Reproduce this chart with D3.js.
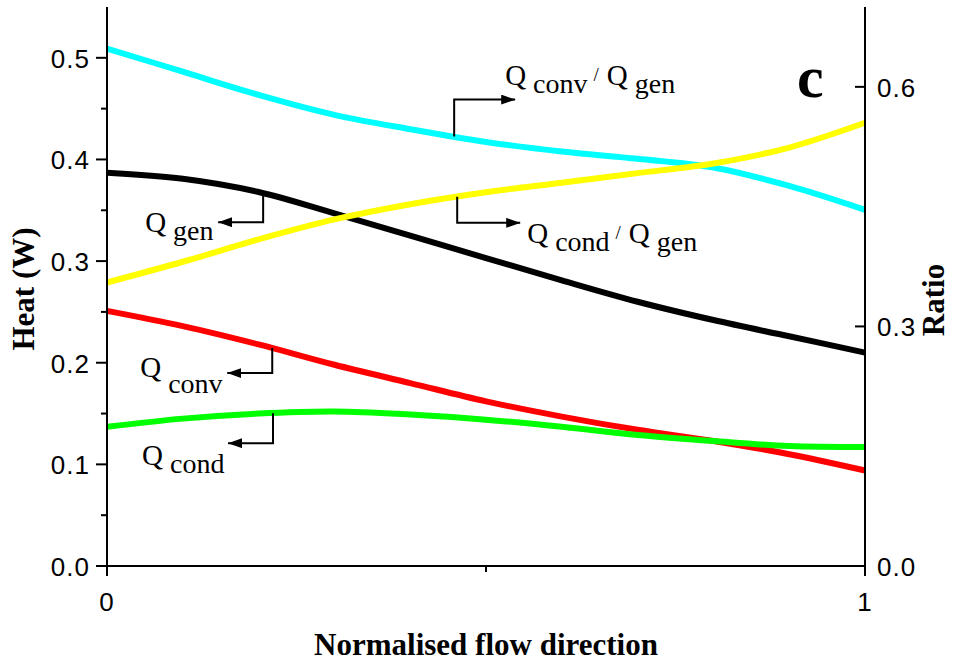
<!DOCTYPE html>
<html>
<head>
<meta charset="utf-8">
<script src="https://cdn.jsdelivr.net/npm/d3@7"></script>
<style>
  body { margin: 0; background: #fff; }
  svg text { fill: #000; }
  .tick-label { font-family: "Liberation Sans", Arial, sans-serif; font-size: 26px; letter-spacing: 1px; }
  .axis-title { font-family: "Liberation Serif", "Times New Roman", serif; font-size: 31px; font-weight: bold; }
  .note { font-family: "Liberation Serif", "Times New Roman", serif; font-size: 29px; }
</style>
</head>
<body>
<div id="chart"></div>
<script>
// positions along the flow, normalised 0..1
var flow_pos = [0, 0.1, 0.2, 0.3, 0.4, 0.5, 0.6, 0.7, 0.8, 0.9, 1.0];

// heat values (W), left axis
var q_gen  = [0.387, 0.381, 0.368, 0.347, 0.325, 0.303, 0.281, 0.260, 0.242, 0.226, 0.210];
var q_conv = [0.251, 0.236, 0.218, 0.198, 0.180, 0.162, 0.147, 0.134, 0.123, 0.110, 0.094];
var q_cond = [0.137, 0.145, 0.150, 0.152, 0.149, 0.144, 0.137, 0.129, 0.123, 0.118, 0.117];

// ratios, right axis
var conv_ratio = [0.648, 0.619, 0.590, 0.565, 0.547, 0.531, 0.519, 0.510, 0.499, 0.476, 0.446];
var cond_ratio = [0.355, 0.381, 0.409, 0.434, 0.453, 0.468, 0.480, 0.492, 0.504, 0.524, 0.555];

var left_ticks = [0.0, 0.1, 0.2, 0.3, 0.4, 0.5];
var left_minor = [0.05, 0.15, 0.25, 0.35, 0.45];
var right_ticks = [0.0, 0.3, 0.6];
var x_ticks = [0, 1];
var x_minor = [0.5];

var width = 953, height = 664;
var plot = { left: 107, right: 865, top: 7, bottom: 566 };

var svg = d3.select("#chart").append("svg")
  .attr("width", width)
  .attr("height", height);

var x = d3.scaleLinear().domain([0, 1]).range([plot.left, plot.right]);
var yL = d3.scaleLinear().domain([0, 0.55]).range([plot.bottom, plot.top]);
var yR = d3.scaleLinear().domain([0, 0.7]).range([plot.bottom, plot.top]);

// arrow head
svg.append("defs").append("marker")
  .attr("id", "arrow")
  .attr("viewBox", "0 0 14 10")
  .attr("refX", 14).attr("refY", 5)
  .attr("markerWidth", 14).attr("markerHeight", 10)
  .attr("markerUnits", "userSpaceOnUse")
  .attr("orient", "auto")
  .append("path")
  .attr("d", "M0,0 L14,5 L0,10 Z")
  .attr("fill", "#000");

// series
var series = [
  { values: q_gen, scale: yL, color: "#000000" },
  { values: q_conv, scale: yL, color: "#ff0000" },
  { values: q_cond, scale: yL, color: "#00ff00" },
  { values: conv_ratio, scale: yR, color: "#00ffff" },
  { values: cond_ratio, scale: yR, color: "#ffff00" }
];

var lines_g = svg.append("g");
series.forEach(function (s) {
  var line = d3.line()
    .x(function (d, i) { return x(flow_pos[i]); })
    .y(function (d) { return s.scale(d); })
    .curve(d3.curveCatmullRom.alpha(0.5));
  lines_g.append("path")
    .datum(s.values)
    .attr("d", line)
    .attr("fill", "none")
    .attr("stroke", s.color)
    .attr("stroke-width", 6);
});

// axes
var axis_g = svg.append("g").attr("stroke", "#000").attr("stroke-width", 2);
axis_g.append("line").attr("x1", plot.left).attr("x2", plot.left).attr("y1", plot.top).attr("y2", plot.bottom + 1);
axis_g.append("line").attr("x1", plot.right).attr("x2", plot.right).attr("y1", plot.top).attr("y2", plot.bottom + 1);
axis_g.append("line").attr("x1", plot.left).attr("x2", plot.right).attr("y1", plot.bottom).attr("y2", plot.bottom);

// left ticks (outward)
left_ticks.forEach(function (t) {
  axis_g.append("line").attr("x1", plot.left - 11).attr("x2", plot.left)
    .attr("y1", yL(t)).attr("y2", yL(t));
  svg.append("text").attr("class", "tick-label")
    .attr("x", plot.left - 17).attr("y", yL(t) + 1)
    .attr("text-anchor", "end").attr("dominant-baseline", "central")
    .text(d3.format(".1f")(t));
});
left_minor.forEach(function (t) {
  axis_g.append("line").attr("x1", plot.left - 6).attr("x2", plot.left)
    .attr("y1", yL(t)).attr("y2", yL(t));
});

// right ticks (inward)
right_ticks.forEach(function (t) {
  axis_g.append("line").attr("x1", plot.right - 10).attr("x2", plot.right)
    .attr("y1", yR(t)).attr("y2", yR(t));
  svg.append("text").attr("class", "tick-label")
    .attr("x", plot.right + 12).attr("y", yR(t) + 1)
    .attr("dominant-baseline", "central")
    .text(d3.format(".1f")(t));
});

// bottom ticks
x_ticks.forEach(function (t) {
  axis_g.append("line").attr("x1", x(t)).attr("x2", x(t))
    .attr("y1", plot.bottom).attr("y2", plot.bottom + 10);
  svg.append("text").attr("class", "tick-label")
    .attr("x", x(t)).attr("y", plot.bottom + 45)
    .attr("text-anchor", "middle")
    .text(d3.format("d")(t));
});
x_minor.forEach(function (t) {
  axis_g.append("line").attr("x1", x(t)).attr("x2", x(t))
    .attr("y1", plot.bottom).attr("y2", plot.bottom + 6);
});

// axis titles
svg.append("text").attr("class", "axis-title")
  .attr("transform", "translate(34,289) rotate(-90)")
  .attr("text-anchor", "middle")
  .text("Heat (W)");
svg.append("text").attr("class", "axis-title")
  .attr("transform", "translate(944,300) rotate(-90)")
  .attr("text-anchor", "middle")
  .text("Ratio");
svg.append("text").attr("class", "axis-title")
  .attr("x", 486).attr("y", 655)
  .attr("text-anchor", "middle")
  .text("Normalised flow direction");

// panel letter
svg.append("text")
  .attr("x", 797).attr("y", 97)
  .style("font-family", "'Liberation Serif', 'Times New Roman', serif")
  .style("font-size", "60px").style("font-weight", "bold")
  .text("c");

// callouts: anchor on a curve, elbow, arrow sideways, label
var notes = [
  { at: 0.458, s: 3, dy: -37, dx: 61, lx: 51, ly: -52, sub: 8, parts: [["Q", "conv"], ["Q", "gen"]] },
  { at: 0.462, s: 4, dy: 26, dx: 63, lx: 70, ly: 46, sub: 8, parts: [["Q", "cond"], ["Q", "gen"]] },
  { at: 0.206, s: 0, dy: 29, dx: -45, lx: -118, ly: 39, sub: 8, parts: [["Q", "gen"]] },
  { at: 0.218, s: 1, dy: 25, dx: -45, lx: -132, ly: 29, sub: 16, parts: [["Q", "conv"]] },
  { at: 0.219, s: 2, dy: 30, dx: -45, lx: -131, ly: 52, sub: 8, parts: [["Q", "cond"]] }
];

var interp = function (vals, t) {
  var i = Math.min(Math.floor(t * 10), 9);
  var f = (t - flow_pos[i]) / (flow_pos[i + 1] - flow_pos[i]);
  return vals[i] + f * (vals[i + 1] - vals[i]);
};

notes.forEach(function (n) {
  var s = series[n.s];
  var ax = x(n.at), ay = s.scale(interp(s.values, n.at));
  svg.append("path")
    .attr("d", "M" + ax + "," + ay + " L" + ax + "," + (ay + n.dy) + " L" + (ax + n.dx) + "," + (ay + n.dy))
    .attr("fill", "none")
    .attr("stroke", "#000")
    .attr("stroke-width", 2)
    .attr("marker-end", "url(#arrow)");
  var txt = svg.append("text").attr("class", "note")
    .attr("x", ax + n.lx).attr("y", ay + n.ly);
  n.parts.forEach(function (p, k) {
    if (k > 0) {
      txt.append("tspan").attr("dy", -n.sub - 4).attr("dx", 6).style("font-size", "19px").text("/");
      txt.append("tspan").attr("dy", 4).attr("dx", 8).text(p[0]);
    } else {
      txt.append("tspan").text(p[0]);
    }
    txt.append("tspan").attr("dy", n.sub).attr("dx", 7).style("font-size", "28px").text(p[1]);
  });
});
</script>
</body>
</html>
